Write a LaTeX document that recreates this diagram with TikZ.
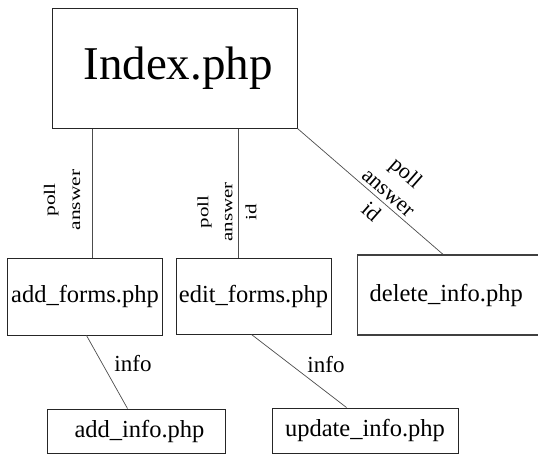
\documentclass[tikz,border=0pt]{standalone}
\usepackage{fontspec}
\setmainfont{Liberation Serif}
\usepackage{graphicx}
\newcommand{\sq}[1]{\scalebox{1}[0.75]{#1}}
\begin{document}
\begin{tikzpicture}[x=1pt,y=-1pt,
  box/.style={draw=black!85, line width=1pt, inner sep=0pt, font=\fontsize{24.5}{28}\selectfont},
  conn/.style={draw=black!70, line width=0.7pt},
  vlab/.style={rotate=90, align=center, inner sep=0pt},
  dlab/.style={rotate=-41.4, align=center, inner sep=0pt, font=\fontsize{22}{26.5}\selectfont},
  ilab/.style={inner sep=0pt, font=\fontsize{23}{26}\selectfont}
]
\useasboundingbox (0,0) rectangle (538,455);

\node[box, minimum width=245pt, minimum height=120pt, font=\fontsize{47}{50}\selectfont] (idx) at (174.5,68) {\hspace{7pt}Index.php};
\node[box, minimum width=155pt, minimum height=77pt] (addf) at (85,296.5) {add\_forms.php};
\node[box, minimum width=155pt, minimum height=76pt] (editf) at (253.5,296) {edit\_forms.php};
\node[box, anchor=west, minimum height=80pt, text width=170pt, align=left, inner xsep=12pt, draw=black!75, line width=1.3pt] (del) at (357,295) {delete\_info.php};
\node[box, minimum width=178pt, minimum height=44pt] (addi) at (136,431) {\hspace{7pt}add\_info.php};
\node[box, minimum width=186pt, minimum height=45pt] (upd) at (365,430.5) {update\_info.php};

\draw[conn] ([xshift=41pt]idx.south west) -- ([xshift=85.5pt]addf.north west);
\draw[conn] ([xshift=187pt]idx.south west) -- ([xshift=63pt]editf.north west);
\draw[conn] (idx.south east) -- ([xshift=86pt]del.north west);
\draw[conn] ([xshift=79.5pt]addf.south west) -- ([xshift=81pt]addi.north west);
\draw[conn] ([xshift=76pt]editf.south west) -- ([xshift=75pt]upd.north west);

\node[vlab, font=\fontsize{21.5}{25}\selectfont] (l1) at (62,200) {\sq{poll}\\\sq{answer}};
\node[vlab, font=\fontsize{21}{24}\selectfont] (l2) at (227,212) {\sq{poll}\\\sq{answer}\\\sq{id}};
\node[dlab] (l3) at (389,192) {poll\\answer\\id};
\node[ilab] (l4) at (133,364) {info};
\node[ilab] (l5) at (326,365) {info};
\end{tikzpicture}
\end{document}
